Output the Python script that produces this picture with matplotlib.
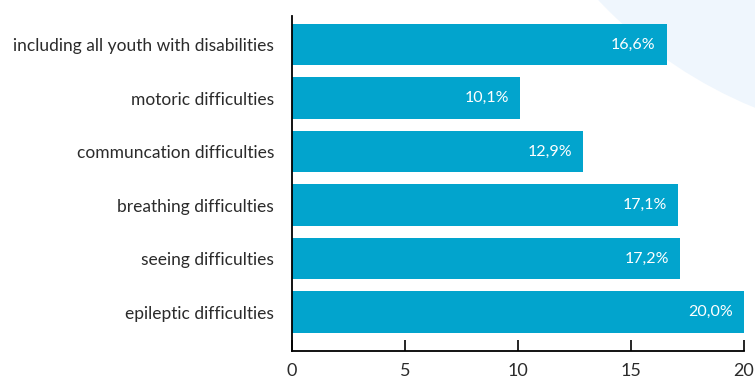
import matplotlib
matplotlib.use("Agg")
import matplotlib.pyplot as plt
from matplotlib.patches import Ellipse

categories = [
    "including all youth with disabilities",
    "motoric difficulties",
    "communcation difficulties",
    "breathing difficulties",
    "seeing difficulties",
    "epileptic difficulties",
]
values = [16.6, 10.1, 12.9, 17.1, 17.2, 20.0]
value_labels = ["16,6%", "10,1%", "12,9%", "17,1%", "17,2%", "20,0%"]
x_ticks = [0, 5, 10, 15, 20]

BAR = "#02a4cd"
TEXT = "#2b2b2b"

plt.rcParams["font.family"] = ["Lato", "DejaVu Sans"]

fig = plt.figure(figsize=(7.55, 3.76), dpi=100)

# faint background disc in the top right corner
W, H = 755, 376
fig.patches.append(Ellipse((924 / W, (H + 306) / H), 2 * 447 / W, 2 * 447 / H,
                           transform=fig.transFigure, facecolor="#eff6fd",
                           edgecolor="none", zorder=0))

ax = fig.add_axes([292 / W, 1 - 351 / H, (743.7 - 292) / W, (351 - 16) / H])
ax.set_zorder(2)
ax.patch.set_alpha(0)

ypos = list(range(len(categories)))
ax.barh(ypos, values, height=0.78, color=BAR, zorder=2)

for y, v, lab in zip(ypos, values, value_labels):
    ax.annotate(lab, (v, y), xytext=(-8, 0), textcoords="offset points",
                ha="right", va="center", color="white", fontsize=11.5)

ax.set_xlim(0, 20)
ax.set_ylim(5.729, -0.533)
ax.set_xticks(x_ticks)
ax.set_xticklabels([str(t) for t in x_ticks], fontsize=13, color=TEXT)
ax.set_yticks(ypos)
ax.set_yticklabels(categories, fontsize=12.5, color=TEXT)

ax.tick_params(axis="y", length=0, pad=13)
ax.tick_params(axis="x", direction="in", length=8, width=1.2, pad=9)

for s in ["top", "right"]:
    ax.spines[s].set_visible(False)
for s in ["left", "bottom"]:
    ax.spines[s].set_linewidth(1.3)
    ax.spines[s].set_color("black")

fig.savefig("out.png", dpi=100)
